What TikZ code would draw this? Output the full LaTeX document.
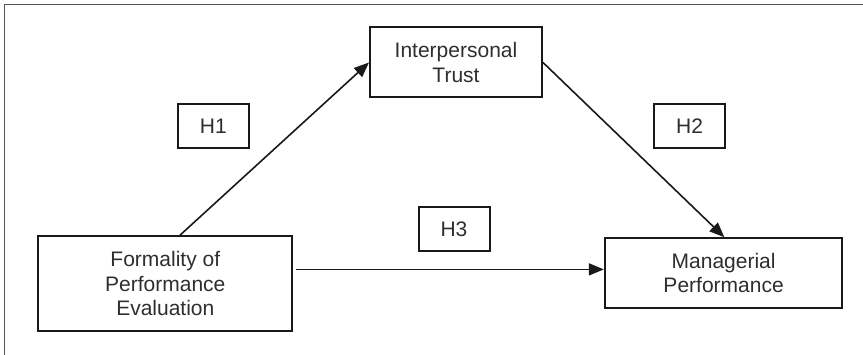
\documentclass[tikz,border=0pt]{standalone}
\usepackage{fontspec}
\setmainfont{Liberation Sans}
\usetikzlibrary{arrows.meta,calc}
\definecolor{txt}{HTML}{2E2E2E}
\definecolor{frame}{HTML}{555555}
\tikzset{
  box/.style={draw=black!90, line width=2pt, rectangle, align=center, text=txt,
    font=\fontsize{21pt}{24.5pt}\selectfont, inner sep=0pt},
  hbox/.style={box, minimum width=71pt, minimum height=44pt},
  arr/.style={draw=black!90, line width=1.6pt, -{Triangle[length=15pt,width=12pt]}},
}
\begin{document}
\begin{tikzpicture}[x=1pt,y=-1pt]
\useasboundingbox (0,0) rectangle (863,355);
\draw[frame, line width=1.8pt] (863,4.6) -- (4.4,4.6) -- (4.4,355);
\node[box, minimum width=254pt, minimum height=95pt] (form) at (165.3,283.7) {Formality of\\Performance\\Evaluation};
\node[box, minimum width=172pt, minimum height=70pt] (trust) at (456,62.5) {Interpersonal\\Trust};
\node[box, minimum width=237.5pt, minimum height=69.5pt] (mgr) at (723.6,273) {Managerial\\Performance};
\node[hbox] (h1) at (213.3,126) {H1};
\node[hbox] (h2) at (689.6,126) {H2};
\node[hbox] (h3) at (454,229.2) {H3};
\draw[arr] ([xshift=14.7pt]form.north) -- (trust.west);
\draw[arr] (trust.east) -- ([xshift=120.5pt]mgr.north west);
\draw[arr] ([xshift=3pt,yshift=14.3pt]form.east) coordinate (h3s) -- (h3s -| mgr.west);
\end{tikzpicture}
\end{document}
